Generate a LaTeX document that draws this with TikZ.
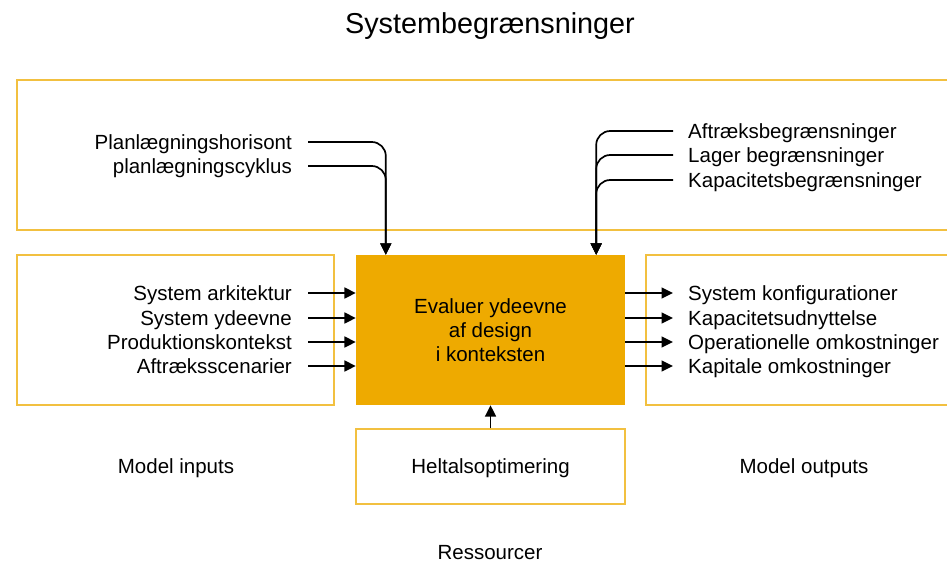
\documentclass[tikz,border=0pt]{standalone}
\usepackage{fontspec}
\setmainfont{Liberation Sans}
\usetikzlibrary{arrows.meta,positioning,calc}
\definecolor{frameyellow}{RGB}{242,192,64}
\definecolor{coreorange}{RGB}{238,170,0}

\begin{document}
\begin{tikzpicture}[x=1pt,y=-1pt,
    font=\fontsize{20.5}{24}\selectfont,
    framebox/.style={draw=frameyellow,line width=1.2pt},
    lbl/.style={inner sep=0pt,text height=14.7pt,text depth=0pt},
    flowarrow/.style={line width=1.7pt,-{Triangle[length=11.5pt,width=11pt]}},
    feedline/.style={line width=1.7pt,rounded corners=14pt}]
  \useasboundingbox (0,0) rectangle (947,564);
  \node[framebox,minimum width=943pt,minimum height=150pt] (limits) at (488.5,155) {};
  \node[framebox,minimum width=317pt,minimum height=150pt] (inputs) at (175.5,330) {};
  \node[framebox,minimum width=314pt,minimum height=150pt] (outputs) at (803,330) {};
  \node[fill=coreorange,minimum width=269pt,minimum height=150pt,align=center,inner sep=0pt] (core) at (490.5,330) {Evaluer ydeevne\\af design\\i konteksten};
  \node[framebox,lbl,minimum width=269pt,minimum height=75pt] (solver) at (490.5,466.5) {Heltalsoptimering};
  \node[lbl,font=\fontsize{28.8}{34}\selectfont,text height=20.6pt] (title) at (490,23) {Systembegrænsninger};
  \node[lbl] (inlabel) at (176,466) {Model inputs};
  \node[lbl] (outlabel) at (804,466) {Model outputs};
  \node[lbl] (res) at (490,552) {Ressourcer};
  \foreach \t/\y [count=\i] in {System arkitektur/293,System ydeevne/318,Produktionskontekst/342,Aftræksscenarier/366}{
    \node[lbl,anchor=east] (in\i) at (292,\y) {\t};
    \draw[flowarrow] ([xshift=16pt]in\i.east) -- (in\i -| core.west);
  }
  \foreach \t/\y [count=\i] in {System konfigurationer/293,Kapacitetsudnyttelse/318,Operationelle omkostninger/342,Kapitale omkostninger/366}{
    \node[lbl,anchor=west] (out\i) at (688,\y) {\t};
    \draw[flowarrow] (out\i -| core.east) -- ([xshift=-15pt]out\i.west);
  }
  \coordinate (kin) at ([xshift=30pt]core.north west);
  \coordinate (kout) at ([xshift=-29pt]core.north east);
  \node[lbl,anchor=east] (horizon) at (292,142) {Planlægningshorisont};
  \node[lbl,anchor=east] (cycle) at (292,166) {planlægningscyklus};
  \draw[feedline,flowarrow] ([xshift=16pt]horizon.east) -| (kin);
  \draw[feedline,flowarrow] ([xshift=16pt]cycle.east) -| (kin);
  \foreach \t/\y [count=\i] in {Aftræksbegrænsninger/131,Lager begrænsninger/155,Kapacitetsbegrænsninger/180}{
    \node[lbl,anchor=west] (lim\i) at (688,\y) {\t};
    \draw[feedline,flowarrow] ([xshift=-15pt]lim\i.west) -| (kout);
  }
  \draw[flowarrow] (solver.north) -- (core.south);
\end{tikzpicture}
\end{document}
